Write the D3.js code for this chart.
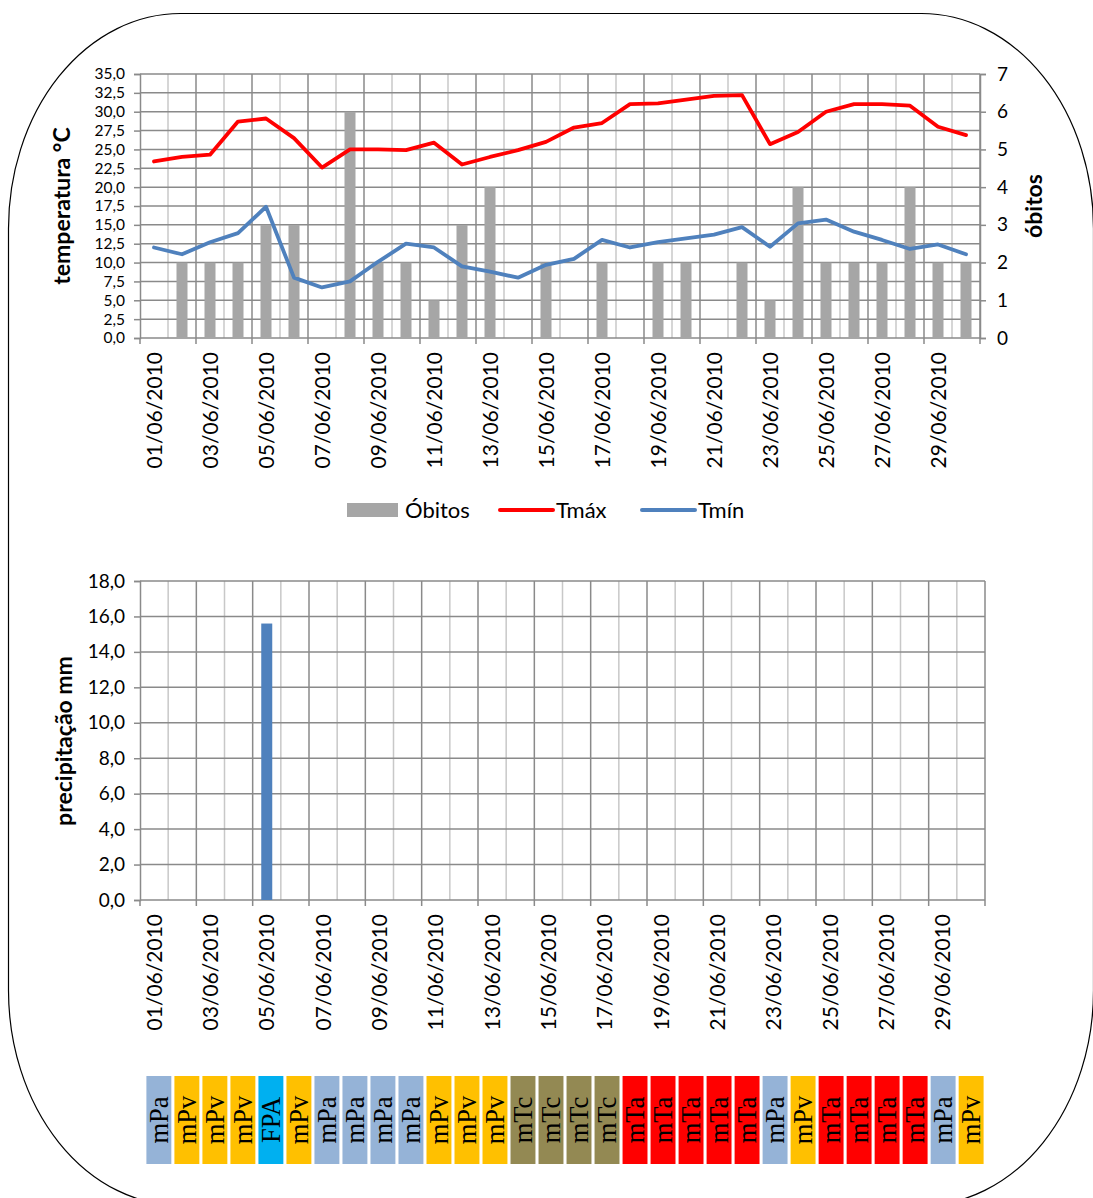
<!DOCTYPE html>
<html><head><meta charset="utf-8">
<script src="https://cdn.jsdelivr.net/npm/d3@7"></script>
<style>body{margin:0;background:#fff} svg{display:block}</style>
</head><body>
<script>
const dates = ["01/06/2010","02/06/2010","03/06/2010","04/06/2010","05/06/2010","06/06/2010","07/06/2010","08/06/2010","09/06/2010","10/06/2010",
"11/06/2010","12/06/2010","13/06/2010","14/06/2010","15/06/2010","16/06/2010","17/06/2010","18/06/2010","19/06/2010","20/06/2010",
"21/06/2010","22/06/2010","23/06/2010","24/06/2010","25/06/2010","26/06/2010","27/06/2010","28/06/2010","29/06/2010","30/06/2010"];
const obitos = [0,2,2,2,3,3,0,6,2,2,1,3,4,0,2,0,2,0,2,2,0,2,1,4,2,2,2,4,2,2];
const tmax = [23.4,24.0,24.3,28.7,29.1,26.5,22.6,25.0,25.0,24.9,25.9,23.0,24.0,24.9,26.0,27.9,28.5,31.0,31.1,31.6,32.1,32.2,25.7,27.3,30.0,31.0,31.0,30.8,28.0,26.9];
const tmin = [12.0,11.1,12.7,13.9,17.4,8.0,6.7,7.5,10.1,12.5,12.0,9.5,8.8,8.0,9.7,10.5,13.0,12.0,12.7,13.2,13.7,14.7,12.1,15.2,15.7,14.1,13.0,11.8,12.4,11.1];
const precip = [0,0,0,0,15.6,0,0,0,0,0,0,0,0,0,0,0,0,0,0,0,0,0,0,0,0,0,0,0,0,0];
const airMass = ["mPa","mPv","mPv","mPv","FPA","mPv","mPa","mPa","mPa","mPa","mPv","mPv","mPv","mTc","mTc","mTc","mTc","mTa","mTa","mTa","mTa","mTa","mPa","mPv","mTa","mTa","mTa","mTa","mPa","mPv"];
const massColors = {mPa:"#95b3d7", mPv:"#ffc000", FPA:"#00b0f0", mTc:"#938953", mTa:"#ff0000"};
const tempTicks = [0,2.5,5,7.5,10,12.5,15,17.5,20,22.5,25,27.5,30,32.5,35];
const obitosTicks = [0,1,2,3,4,5,6,7];
const precipTicks = [0,2,4,6,8,10,12,14,16,18];
const legendItems = [{name:"Óbitos", type:"bar", color:"#a6a6a6"},{name:"Tmáx", type:"line", color:"#ff0000"},{name:"Tmín", type:"line", color:"#4f81bd"}];

const W = 1093, H = 1198;
const FONT = "Lato, 'Open Sans', sans-serif";
const GRID = "#8a8a8a", GRID_LIGHT = "#c8c8c8";
const svg = d3.select("body").append("svg").attr("width", W).attr("height", H);
const locale = d3.formatLocale({decimal: ",", thousands: ".", grouping: [3], currency: ["R$", ""]});
const f1 = locale.format(".1f");

// frame
svg.append("rect").attr("x", 8.5).attr("y", 13.5).attr("width", 1085).attr("height", 1192)
  .attr("rx", 172).attr("ry", 215).attr("fill", "none").attr("stroke", "#000").attr("stroke-width", 1.2);

function gridAndAxes(g, x, y, yTicks, box, tickFont) {
  const bw = x.bandwidth();
  const bounds = dates.map(d => x(d)).concat([x(dates[dates.length - 1]) + bw]);
  g.selectAll("line.vg").data(bounds.slice(1)).join("line")
    .attr("x1", d => d).attr("x2", d => d).attr("y1", box.t).attr("y2", box.b)
    .attr("stroke", (d, i) => (i % 2 === 1 ? GRID : GRID_LIGHT)).attr("stroke-width", 1.5);
  g.selectAll("line.hg").data(yTicks.slice(1)).join("line")
    .attr("x1", box.l).attr("x2", box.r).attr("y1", d => y(d)).attr("y2", d => y(d))
    .attr("stroke", GRID).attr("stroke-width", 1.5);
  g.append("line").attr("x1", box.l).attr("x2", box.r).attr("y1", box.b).attr("y2", box.b)
    .attr("stroke", GRID).attr("stroke-width", 1.5);
  g.selectAll("line.xt").data(bounds.filter((d, i) => i % 2 === 0 || i === bounds.length - 1)).join("line")
    .attr("x1", d => d).attr("x2", d => d).attr("y1", box.b).attr("y2", box.b + 6)
    .attr("stroke", GRID).attr("stroke-width", 1.5);
  g.selectAll("text.dl").data(dates.filter((d, i) => i % 2 === 0)).join("text")
    .attr("transform", d => `translate(${x(d) + bw / 2},${box.b + 14}) rotate(-90)`)
    .attr("text-anchor", "end").attr("dy", "0.36em")
    .attr("font-family", FONT).attr("font-size", 21).attr("fill", "#000").text(d => d);
  const ax = g.append("g").attr("transform", `translate(${box.l},0)`)
    .call(d3.axisLeft(y).tickValues(yTicks).tickFormat(f1).tickSize(6).tickPadding(9));
  ax.selectAll("path,line").attr("stroke", GRID).attr("stroke-width", 1.5);
  ax.selectAll("text").attr("font-family", FONT).attr("font-size", tickFont).attr("fill", "#000");
}

// ---------- top chart ----------
const b1 = {l: 140, r: 980, t: 74, b: 338};
const x1 = d3.scaleBand().domain(dates).range([b1.l, b1.r]);
const yT = d3.scaleLinear().domain([0, 35]).range([b1.b, b1.t]);
const yO = d3.scaleLinear().domain([0, 7]).range([b1.b, b1.t]);
const g1 = svg.append("g");
gridAndAxes(g1, x1, yT, tempTicks, b1, 15.5);
const bw1 = x1.bandwidth(), barW = 11;
g1.selectAll("rect.ob").data(obitos).join("rect")
  .attr("x", (d, i) => x1(dates[i]) + (bw1 - barW) / 2).attr("width", barW)
  .attr("y", d => yO(d)).attr("height", d => yO(0) - yO(d)).attr("fill", "#a6a6a6");
const line1 = d3.line().x((d, i) => x1(dates[i]) + bw1 / 2).y(d => yT(d));
g1.append("path").attr("d", line1(tmax)).attr("fill", "none").attr("stroke", "#ff0000").attr("stroke-width", 3.8).attr("stroke-linejoin", "round").attr("stroke-linecap", "round");
g1.append("path").attr("d", line1(tmin)).attr("fill", "none").attr("stroke", "#4f81bd").attr("stroke-width", 3.8).attr("stroke-linejoin", "round").attr("stroke-linecap", "round");
const axR = g1.append("g").attr("transform", `translate(${b1.r},0)`)
  .call(d3.axisRight(yO).tickValues(obitosTicks).tickFormat(d3.format("d")).tickSize(6).tickPadding(11));
axR.selectAll("path,line").attr("stroke", GRID).attr("stroke-width", 1.5);
axR.selectAll("text").attr("font-family", FONT).attr("font-size", 19).attr("fill", "#000");

svg.append("text").attr("transform", "translate(62,206) rotate(-90)").attr("text-anchor", "middle").attr("dy", "0.35em")
  .attr("font-family", FONT).attr("font-weight", "bold").attr("font-size", 23).text("temperatura °C");
svg.append("text").attr("transform", "translate(1034,206) rotate(-90)").attr("text-anchor", "middle").attr("dy", "0.35em")
  .attr("font-family", FONT).attr("font-weight", "bold").attr("font-size", 23).text("óbitos");

// legend
const lg = svg.append("g");
const legX = [347, 500, 642];
legendItems.forEach((it, i) => {
  const gx = legX[i];
  if (it.type === "bar") {
    lg.append("rect").attr("x", gx).attr("y", 503).attr("width", 51).attr("height", 14).attr("fill", it.color);
  } else {
    lg.append("line").attr("x1", gx).attr("x2", gx + 53).attr("y1", 510).attr("y2", 510)
      .attr("stroke", it.color).attr("stroke-width", 4).attr("stroke-linecap", "round");
  }
  lg.append("text").attr("x", gx + (it.type === "bar" ? 58 : 56)).attr("y", 510).attr("dy", "0.36em")
    .attr("font-family", FONT).attr("font-size", 22).attr("fill", "#000").text(it.name);
});

// ---------- bottom chart ----------
const b2 = {l: 140, r: 985, t: 581, b: 900};
const x2 = d3.scaleBand().domain(dates).range([b2.l, b2.r]);
const yP = d3.scaleLinear().domain([0, 18]).range([b2.b, b2.t]);
const g2 = svg.append("g");
gridAndAxes(g2, x2, yP, precipTicks, b2, 19);
const bw2 = x2.bandwidth();
g2.selectAll("rect.pr").data(precip).join("rect")
  .attr("x", (d, i) => x2(dates[i]) + (bw2 - barW) / 2).attr("width", barW)
  .attr("y", d => yP(d)).attr("height", d => yP(0) - yP(d)).attr("fill", "#4f81bd");
svg.append("text").attr("transform", "translate(64,741) rotate(-90)").attr("text-anchor", "middle").attr("dy", "0.35em")
  .attr("font-family", FONT).attr("font-weight", "bold").attr("font-size", 23).text("precipitação mm");

// ---------- air masses ----------
const x3 = d3.scaleBand().domain(dates).range([145, 985]).paddingInner(0.11).paddingOuter(0.05);
const g3 = svg.append("g");
g3.selectAll("rect.am").data(airMass).join("rect")
  .attr("x", (d, i) => x3(dates[i])).attr("width", x3.bandwidth())
  .attr("y", 1076).attr("height", 88).attr("fill", d => massColors[d]);
g3.selectAll("text.am").data(airMass).join("text")
  .attr("transform", (d, i) => `translate(${x3(dates[i]) + x3.bandwidth() / 2},1120) rotate(-90)`)
  .attr("text-anchor", "middle").attr("dy", "0.33em")
  .attr("font-family", "'Liberation Serif', 'Times New Roman', serif").attr("font-size", 26.5).attr("fill", "#000").text(d => d);
</script>
</body></html>
